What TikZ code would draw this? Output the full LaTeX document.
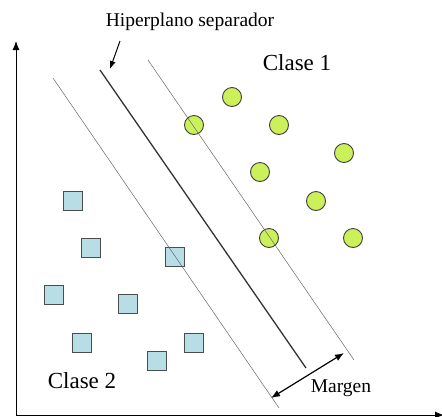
\documentclass[tikz,border=0pt]{standalone}
\usepackage{fontspec}
\setmainfont{Liberation Serif}
\usetikzlibrary{arrows.meta}
\definecolor{limeGreen}{RGB}{204,240,90}
\definecolor{paleBlue}{RGB}{182,222,228}
\tikzset{
  claseuno/.style={circle,draw=black!75,fill=limeGreen,line width=0.9pt,minimum size=19pt,inner sep=0pt},
  clasedos/.style={rectangle,draw=black!70,fill=paleBlue,line width=0.8pt,minimum size=18.5pt,inner sep=0pt},
  plano/.style={black!80,line width=1.3pt},
  borde/.style={black!60,line width=0.5pt},
  eje/.style={black,line width=1pt,-{Latex[length=9pt,width=7pt]}}
}

\begin{document}
\begin{tikzpicture}[x=1pt,y=-1pt]
\useasboundingbox (0,0) rectangle (442,416);
% ejes
\coordinate (origen) at (16,415);
\coordinate (ytop) at (16,41);
\coordinate (xend) at (444,415);
\draw[eje] (origen) -- (ytop);
\draw[eje] (origen) -- (xend);
% clase 1
\foreach \n/\p in {1/{232,97},2/{194,125},3/{279,125},4/{344,153},5/{260,172},6/{316,201},7/{269,238},8/{353,238}}
  \node[claseuno] (c\n) at (\p) {};
% clase 2
\foreach \n/\p in {1/{73,201},2/{91,248},3/{175,257},4/{54,295},5/{128,304},6/{82,343},7/{194,343},8/{157,361}}
  \node[clasedos] (s\n) at (\p) {};
% hiperplanos
\coordinate (hA) at (100,70);
\coordinate (hB) at (306,368);
\coordinate (mA) at (148,60);
\coordinate (mB) at (354,360);
\coordinate (nA) at (53,78);
\coordinate (nB) at (279,408);
\draw[plano] (hA) -- (hB);
\draw[borde] (mA) -- (mB);
\draw[borde] (nA) -- (nB);
% etiquetas
\node[font=\fontsize{19.5}{22}\selectfont] (hiper) at (190,22) {Hiperplano separador};
\coordinate (flecha) at (110,69);
\draw[black,line width=1pt,-{Latex[length=8pt,width=6pt]}] (120,41) -- (flecha);
\node[font=\fontsize{23}{26}\selectfont] (clase1) at (297,63) {Clase 1};
\node[font=\fontsize{23}{26}\selectfont] (clase2) at (82,381) {Clase 2};
\node[font=\fontsize{19.5}{22}\selectfont] (margen) at (341,388) {Margen};
% margen
\coordinate (mgA) at (271,398);
\coordinate (mgB) at (344,353);
\draw[black,line width=1.2pt,{Latex[length=9pt,width=7pt]}-{Latex[length=9pt,width=7pt]}] (mgA) -- (mgB);
\end{tikzpicture}
\end{document}
